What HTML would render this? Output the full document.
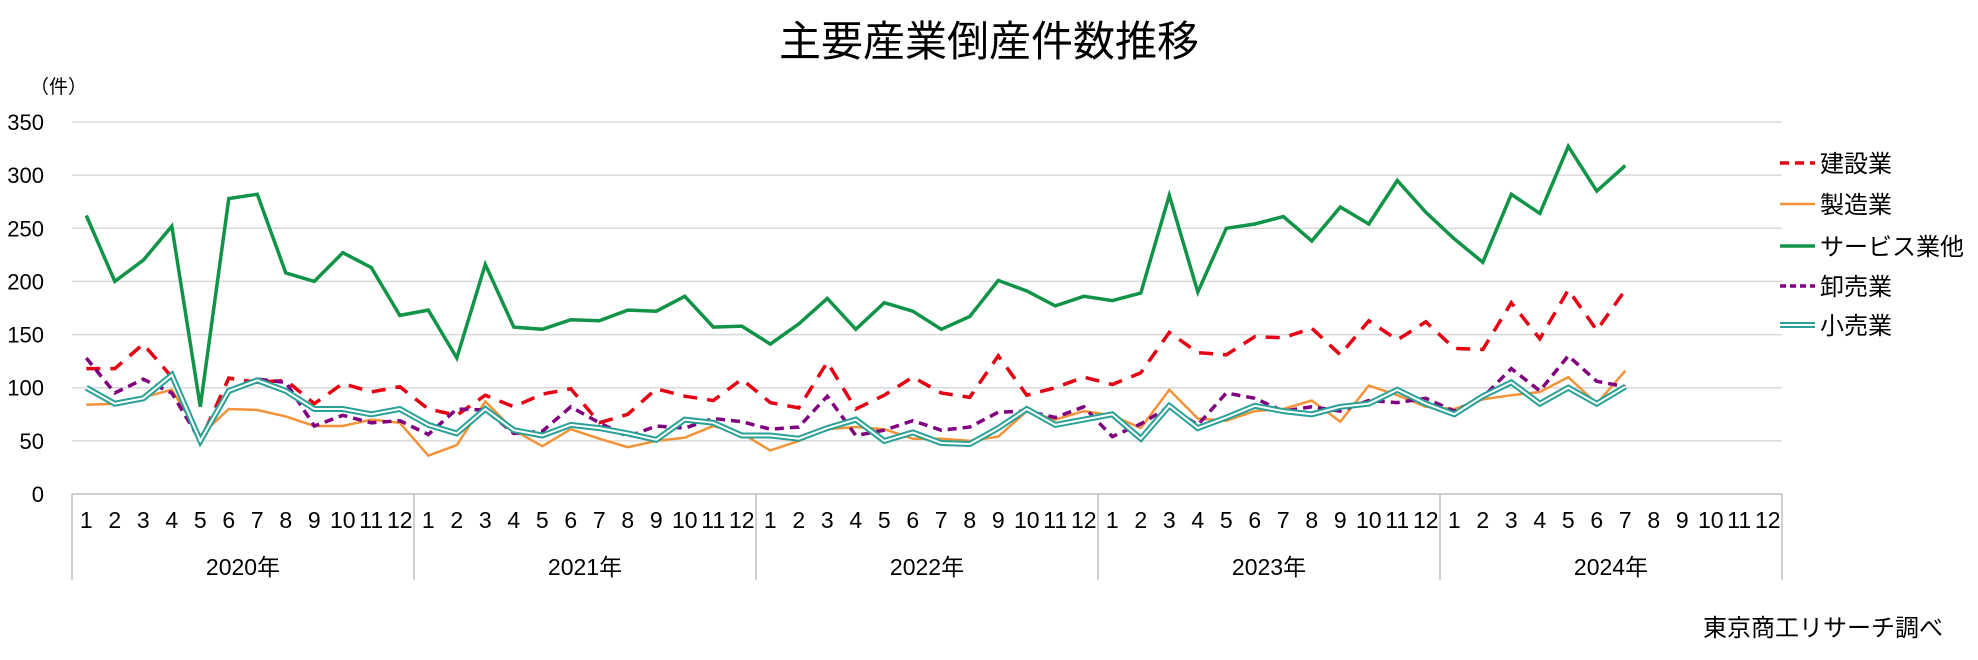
<!DOCTYPE html>
<html><head><meta charset="utf-8"><style>
html,body{margin:0;padding:0;background:#fff;}
svg text{font-family:"Liberation Sans","Noto Sans CJK JP",sans-serif;fill:#000;}
</style></head><body>
<svg id="chart" width="1978" height="655" viewBox="0 0 1978 655" xmlns="http://www.w3.org/2000/svg">
<text x="989" y="56" font-size="42" text-anchor="middle">主要産業倒産件数推移</text>
<text x="30" y="93" font-size="19">（件）</text>
<g id="grid"></g>
<g id="yticks"></g>
<g id="xaxis"></g>
<g id="series"></g>
<g id="legend"></g>
<text x="1703" y="636" font-size="24">東京商工リサーチ調べ</text>
</svg>
<script>
const years = ["2020年","2021年","2022年","2023年","2024年"];
const months = ["1","2","3","4","5","6","7","8","9","10","11","12"];
const yTicks = [0,50,100,150,200,250,300,350];
const seriesNames = ["建設業","製造業","サービス業他","卸売業","小売業"];
const construction = [118,118,141,110,50,109,105,107,85,104,96,101, 80,74,93,82,94,99,67,75,99,92,88,108, 86,81,124,80,93,110,95,91,130,93,100,110, 103,114,152,133,131,148,147,156,131,163,145,162, 137,136,180,146,192,154,192];
const manufacturing = [84,85,91,98,55,80,79,73,64,64,70,67, 36,46,87,60,45,61,52,44,50,53,64,57, 41,50,61,63,61,52,52,50,54,78,70,78, 74,62,98,71,69,78,80,88,68,102,93,82, 80,89,93,96,110,85,116];
const services = [262,200,220,252,82,278,282,208,200,227,213,168, 173,128,216,157,155,164,163,173,172,186,157,158, 141,160,184,155,180,172,155,167,201,191,177,186, 182,189,281,190,250,254,261,238,270,254,295,265, 240,218,282,264,327,285,309];
const wholesale = [128,95,108,95,50,98,108,105,64,74,67,69, 56,80,79,57,59,82,67,54,64,62,71,68, 61,63,92,55,60,69,60,63,77,78,72,82, 54,66,82,65,95,90,78,82,78,88,86,90, 78,91,118,97,130,106,101];
const retail = [100,85,90,112,50,97,107,97,80,80,75,80, 65,57,80,60,55,65,62,57,51,70,67,55, 55,52,62,70,50,58,48,47,62,80,65,70, 75,52,83,62,72,83,78,75,82,85,98,85, 75,92,105,85,100,85,101];

const NS="http://www.w3.org/2000/svg";
const L=72,R=1782,T=122,B=494,AXB=580;
const total=years.length*months.length, step=(R-L)/total;
const yMax=350;
function x(i){return L+step*(i+0.5);}
function y(v){return B-(v/yMax)*(B-T);}
function mk(tag,attrs,parent){const e=document.createElementNS(NS,tag);for(const k in attrs)e.setAttribute(k,attrs[k]);parent.appendChild(e);return e;}

const grid=document.getElementById('grid'), yt=document.getElementById('yticks');
yTicks.forEach(v=>{
  if(v>0){const g=mk('line',{x1:L,x2:R,y1:y(v),y2:y(v),stroke:'#d9d9d9','stroke-width':1.5},grid);
  
  }
  const t=mk('text',{x:44,y:y(v)+8,'font-size':22,'text-anchor':'end'},yt);
  t.textContent=v;
  
  
});
const xa=document.getElementById('xaxis');
const ax=mk('line',{x1:L,x2:R,y1:B,y2:B,stroke:'#bfbfbf','stroke-width':1.5},xa);


for(let yi=0;yi<=years.length;yi++){
  const xx=L+yi*12*step;
  const s=mk('line',{x1:xx,x2:xx,y1:B,y2:AXB,stroke:'#bfbfbf','stroke-width':1.5},xa);
  
  
}
years.forEach((yr,yi)=>{
  months.forEach((m,mi)=>{
    const t=mk('text',{x:x(yi*12+mi),y:528,'font-size':23,'text-anchor':'middle'},xa);
    t.textContent=m;
    
    
  });
  const t=mk('text',{x:L+(yi*12+6)*step,y:575,'font-size':23,'text-anchor':'middle'},xa);
  t.textContent=yr;
  
  
});

const styles=[
 {data:construction,color:'#e60012',w:3.5,dash:'14 10'},
 {data:manufacturing,color:'#f39237',w:2.5,dash:''},
 {data:services,color:'#119447',w:3.5,dash:''},
 {data:wholesale,color:'#800080',w:3.5,dash:'9 6'},
 {data:retail,color:'#2aa198',w:6,dash:'',double:true}
];
const sg=document.getElementById('series');
styles.forEach((s,si)=>{
  const pts=s.data.map((v,i)=>x(i).toFixed(1)+','+y(v).toFixed(1)).join(' ');
  const p=mk('polyline',{points:pts,fill:'none',stroke:s.color,'stroke-width':s.w,'stroke-linejoin':'miter','stroke-dasharray':s.dash},sg);
  
  
  if(s.double){
    const q=mk('polyline',{points:pts,fill:'none',stroke:'#ffffff','stroke-width':2},sg);
    
    
  }
});
const lg=document.getElementById('legend');
const legY=[163,204,246,286,325];
styles.forEach((s,si)=>{
  const l=mk('line',{x1:1780,x2:1815,y1:legY[si],y2:legY[si],stroke:s.color,'stroke-width':s.w,'stroke-dasharray':s.dash?(si==0?'9 6':'6 4'):''},lg);
  
  
  if(s.double){const q=mk('line',{x1:1780,x2:1815,y1:legY[si],y2:legY[si],stroke:'#fff','stroke-width':2},lg);
    
    }
  const t=mk('text',{x:1820,y:legY[si]+9,'font-size':24},lg);
  t.textContent=seriesNames[si];
  
  
});
</script>
</body></html>
